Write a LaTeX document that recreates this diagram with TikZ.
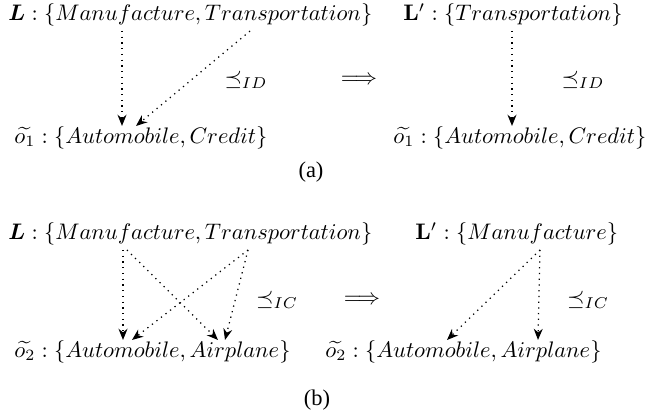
\documentclass[tikz,border=0pt]{standalone}
\usepackage{amsmath}
\usepackage[no-math]{fontspec}
\setmainfont{Liberation Serif}
\usetikzlibrary{arrows.meta,calc}
\tikzset{
  conc/.style={inner sep=0pt, anchor=west},
  rel/.style={inner sep=0pt},
  caption/.style={inner sep=0pt},
  dotarrow/.style={-{Stealth[length=5pt,width=4pt]}, dotted, line width=0.55pt}
}

\begin{document}
\begin{tikzpicture}[x=0.445pt, y=-0.445pt]
  \useasboundingbox (0,0) rectangle (645,414);
  % (a)
  \node[conc] (La) at (8,15) {$\boldsymbol{L}:\{Manufacture,Transportation\}$};
  \node[conc] (Oa) at (14,138) {$\widetilde{o_1}:\{Automobile,Credit\}$};
  \node[conc] (Lpa) at (403,15) {$\mathbf{L}':\{Transportation\}$};
  \node[conc] (Opa) at (393,138) {$\widetilde{o_1}:\{Automobile,Credit\}$};
  \node[rel] (ida) at (246,80) {$\preceq_{ID}$};
  \node[rel] (impa) at (359,80) {$\Longrightarrow$};
  \node[rel] (idpa) at (583,80) {$\preceq_{ID}$};
  \node[caption] (capa) at (311,172) {(a)};
  \draw[dotarrow] ($(La.west)+(114,16)$) -- ($(Oa.west)+(108,-12)$);
  \draw[dotarrow] ($(La.west)+(242,16)$) -- ($(Oa.west)+(122,-12)$);
  \draw[dotarrow] ($(Lpa.west)+(109,16)$) -- ($(Opa.west)+(119,-12)$);
  % (b)
  \node[conc] (Lb) at (8,234) {$\boldsymbol{L}:\{Manufacture,Transportation\}$};
  \node[conc] (Ob) at (14,352) {$\widetilde{o_2}:\{Automobile,Airplane\}$};
  \node[conc] (Lpb) at (415,234) {$\mathbf{L}':\{Manufacture\}$};
  \node[conc] (Opb) at (325,352) {$\widetilde{o_2}:\{Automobile,Airplane\}$};
  \node[rel] (icb) at (277,300) {$\preceq_{IC}$};
  \node[rel] (impb) at (362,300) {$\Longrightarrow$};
  \node[rel] (icpb) at (588,300) {$\preceq_{IC}$};
  \node[caption] (capb) at (317,400) {(b)};
  \draw[dotarrow] ($(Lb.west)+(115,16)$) -- ($(Ob.west)+(109,-12)$);
  \draw[dotarrow] ($(Lb.west)+(119,16)$) -- ($(Ob.west)+(204,-12)$);
  \draw[dotarrow] ($(Lb.west)+(240,16)$) -- ($(Ob.west)+(118,-12)$);
  \draw[dotarrow] ($(Lb.west)+(240,16)$) -- ($(Ob.west)+(211,-12)$);
  \draw[dotarrow] ($(Lpb.west)+(125,16)$) -- ($(Opb.west)+(122,-12)$);
  \draw[dotarrow] ($(Lpb.west)+(125,16)$) -- ($(Opb.west)+(213,-12)$);
\end{tikzpicture}
\end{document}
